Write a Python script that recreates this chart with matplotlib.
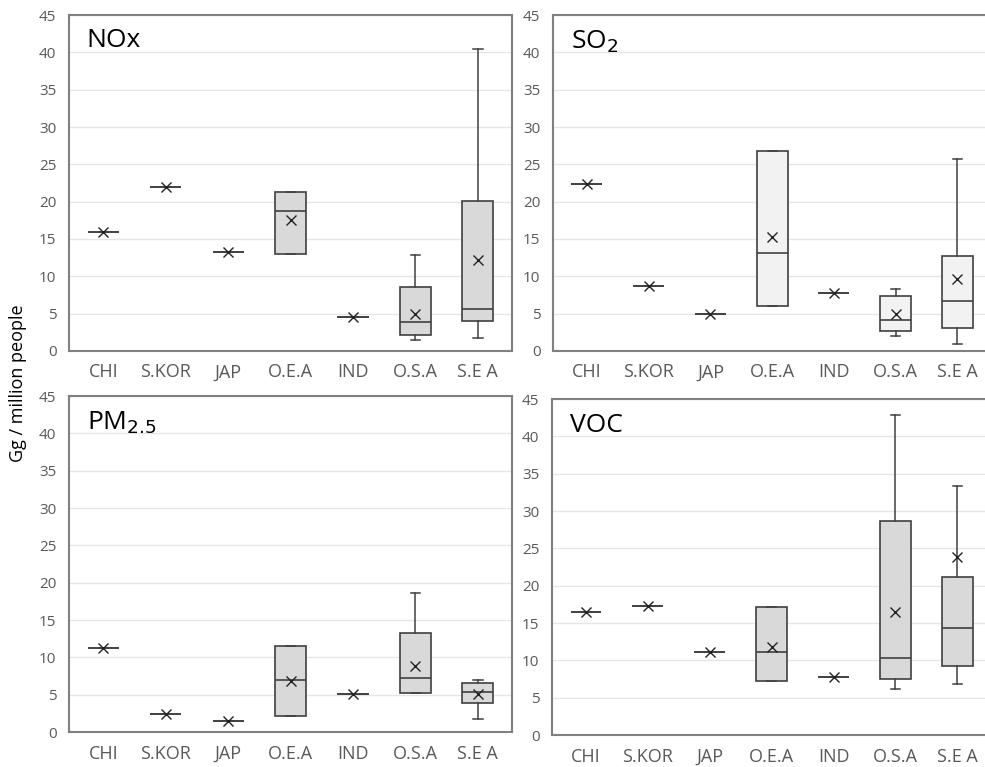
import matplotlib.pyplot as plt
import numpy as np

plt.rcParams['font.family'] = ['Open Sans', 'DejaVu Sans']

categories = ['CHI', 'S.KOR', 'JAP', 'O.E.A', 'IND', 'O.S.A', 'S.E A']

# per pollutant: whisker low, Q1, median, Q3, whisker high, mean
nox_lo = [15.9, 22.0, 13.3, 13.0, 4.55, 1.5, 1.7]
nox_q1 = [15.9, 22.0, 13.3, 13.0, 4.55, 2.2, 4.0]
nox_med = [15.9, 22.0, 13.3, 18.7, 4.55, 3.9, 5.6]
nox_q3 = [15.9, 22.0, 13.3, 21.3, 4.55, 8.6, 20.1]
nox_hi = [15.9, 22.0, 13.3, 21.3, 4.55, 12.9, 40.4]
nox_mean = [15.9, 22.0, 13.3, 17.6, 4.55, 5.0, 12.2]

so2_lo = [22.3, 8.75, 4.9, 6.0, 7.8, 2.0, 0.9]
so2_q1 = [22.3, 8.75, 4.9, 6.0, 7.8, 2.7, 3.1]
so2_med = [22.3, 8.75, 4.9, 13.1, 7.8, 4.2, 6.7]
so2_q3 = [22.3, 8.75, 4.9, 26.8, 7.8, 7.4, 12.7]
so2_hi = [22.3, 8.75, 4.9, 26.8, 7.8, 8.3, 25.7]
so2_mean = [22.3, 8.75, 4.9, 15.3, 7.8, 4.9, 9.7]

pm_lo = [11.3, 2.4, 1.5, 2.15, 5.1, 5.2, 1.7]
pm_q1 = [11.3, 2.4, 1.5, 2.15, 5.1, 5.2, 3.9]
pm_med = [11.3, 2.4, 1.5, 7.0, 5.1, 7.2, 5.4]
pm_q3 = [11.3, 2.4, 1.5, 11.5, 5.1, 13.2, 6.6]
pm_hi = [11.3, 2.4, 1.5, 11.5, 5.1, 18.6, 7.0]
pm_mean = [11.3, 2.4, 1.5, 6.9, 5.1, 8.8, 5.1]

voc_lo = [16.5, 17.3, 11.1, 7.3, 7.8, 6.1, 6.9]
voc_q1 = [16.5, 17.3, 11.1, 7.3, 7.8, 7.5, 9.3]
voc_med = [16.5, 17.3, 11.1, 11.1, 7.8, 10.3, 14.4]
voc_q3 = [16.5, 17.3, 11.1, 17.2, 7.8, 28.7, 21.1]
voc_hi = [16.5, 17.3, 11.1, 17.2, 7.8, 42.8, 33.3]
voc_mean = [16.5, 17.3, 11.1, 11.8, 7.8, 16.5, 23.8]

panels = [
    ('NOx', (nox_lo, nox_q1, nox_med, nox_q3, nox_hi, nox_mean), '#d9d9d9', [0.070, 0.5424, 0.450, 0.438]),
    ('SO$_2$', (so2_lo, so2_q1, so2_med, so2_q3, so2_hi, so2_mean), '#f2f2f2', [0.5614, 0.5424, 0.445, 0.438]),
    ('PM$_{2.5}$', (pm_lo, pm_q1, pm_med, pm_q3, pm_hi, pm_mean), '#d9d9d9', [0.070, 0.0456, 0.450, 0.438]),
    ('VOC', (voc_lo, voc_q1, voc_med, voc_q3, voc_hi, voc_mean), '#d9d9d9', [0.5604, 0.0417, 0.446, 0.438]),
]

edge = '#404040'
fig = plt.figure(figsize=(9.85, 7.67), dpi=100)

for title, (lo, q1, med, q3, hi, mean), fill, pos in panels:
    ax = fig.add_axes(pos)
    stats = []
    for i in range(len(categories)):
        stats.append({'whislo': lo[i], 'q1': q1[i], 'med': med[i], 'q3': q3[i],
                      'whishi': hi[i], 'mean': mean[i], 'fliers': []})
    bp = ax.bxp(stats, positions=np.arange(1, 8), widths=0.5, patch_artist=True,
                showmeans=True, showfliers=False, capwidths=0.15,
                boxprops={'facecolor': fill, 'edgecolor': edge, 'linewidth': 1.2},
                medianprops={'color': edge, 'linewidth': 1.2},
                whiskerprops={'color': edge, 'linewidth': 1.1},
                capprops={'color': edge, 'linewidth': 1.1},
                meanprops={'marker': 'x', 'markeredgecolor': '#222222',
                           'markersize': 7, 'markeredgewidth': 1.0})
    ax.set_xlim(0.45, 7.55)
    ax.set_ylim(0, 45)
    ax.set_yticks(np.arange(0, 46, 5))
    ax.set_xticks(np.arange(1, 8))
    ax.set_xticklabels(categories, fontsize=13, color='#595959')
    ax.tick_params(axis='y', labelsize=11, labelcolor='#595959', length=0, pad=9)
    ax.tick_params(axis='x', length=0, pad=9)
    ax.grid(True, axis='y', color='#e6e6e6', linewidth=1)
    ax.set_axisbelow(True)
    for s in ax.spines.values():
        s.set_color('#808080')
        s.set_linewidth(1.5)
    ax.text(0.04, 0.96, title, transform=ax.transAxes, fontsize=19,
            ha='left', va='top', color='black')

fig.text(0.018, 0.5, 'Gg / million people', rotation=90, fontsize=13,
         ha='center', va='center')

fig.savefig('out.png', dpi=100)
